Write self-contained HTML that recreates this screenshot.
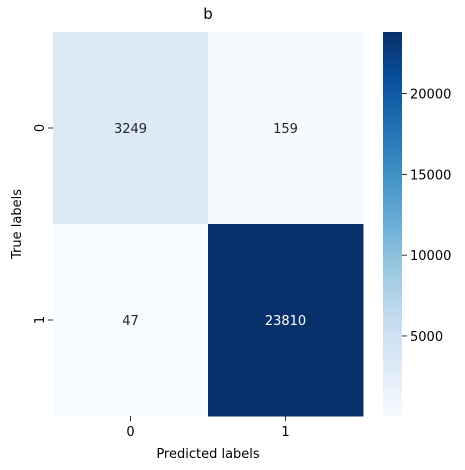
<!DOCTYPE html>
<html><head><meta charset="utf-8"><style>
body{margin:0;background:#fff;}
svg{display:block;font-family:"DejaVu Sans","Liberation Sans",sans-serif;}
</style></head><body>
<svg id="c" width="465" height="470">
<defs><linearGradient id="g" x1="0" y1="1" x2="0" y2="0">
<stop offset="0" stop-color="#f7fbff"/><stop offset="0.125" stop-color="#deebf7"/><stop offset="0.25" stop-color="#c6dbef"/><stop offset="0.375" stop-color="#9ecae1"/><stop offset="0.5" stop-color="#6baed6"/><stop offset="0.625" stop-color="#4292c6"/><stop offset="0.75" stop-color="#2171b5"/><stop offset="0.875" stop-color="#08519c"/><stop offset="1" stop-color="#08306b"/>
</linearGradient></defs>
<text x="208" y="19" font-size="15" text-anchor="middle" fill="#000">b</text>
<text x="208" y="458" font-size="13" text-anchor="middle">Predicted labels</text>
<text transform="translate(21,224) rotate(-90)" font-size="13" text-anchor="middle">True labels</text>
<rect x="383" y="32" width="19" height="384" fill="url(#g)"/>
<g id="cells"></g><g id="ticks"></g>
</svg>
<script>
const xCats=["0","1"];
const yCats=["0","1"];
const values=[[3249,159],[47,23810]];
const cbTicks=[5000,10000,15000,20000];
const vmin=47, vmax=23810;
const L=53,R=363,T=32,B=416,CB=383,CW=19;
const stops=[[247,251,255],[222,235,247],[198,219,239],[158,202,225],[107,174,214],[66,146,198],[33,113,181],[8,81,156],[8,48,107]];
function color(v){let t=Math.max(0,Math.min(1,(v-vmin)/(vmax-vmin)))*8;let i=Math.min(7,Math.floor(t)),f=t-i;const a=stops[i],b=stops[i+1];return `rgb(${a.map((c,k)=>Math.round(c+(b[k]-c)*f)).join(',')})`;}
const ns="http://www.w3.org/2000/svg";
const cw=(R-L)/xCats.length, ch=(B-T)/yCats.length;
const cells=document.getElementById('cells'), ticks=document.getElementById('ticks');
function mk(tag,attrs,parent,txt){const e=document.createElementNS(ns,tag);for(const k in attrs)e.setAttribute(k,attrs[k]);if(txt!==undefined)e.textContent=txt;parent.appendChild(e);return e;}
values.forEach((row,i)=>row.forEach((v,j)=>{
 const r=mk('rect',{x:L+j*cw,y:T+i*ch,width:cw+0.5,height:ch+0.5,fill:color(v)},cells);
 
 
 const n=(v-vmin)/(vmax-vmin);
 const t=mk('text',{x:L+(j+0.5)*cw,y:T+(i+0.5)*ch+5,'font-size':13,'text-anchor':'middle',fill:n>0.5?'#fff':'#262626'},cells,String(v));
 
 
}));
xCats.forEach((c,j)=>{const x=L+(j+0.5)*cw;
 mk('line',{x1:x,x2:x,y1:B,y2:B+5,stroke:'#000','stroke-width':0.8},ticks);
 const t=mk('text',{x:x,y:B+20,'font-size':13,'text-anchor':'middle'},ticks,c);
 
 });
yCats.forEach((c,i)=>{const y=T+(i+0.5)*ch;
 mk('line',{x1:L-5,x2:L,y1:y,y2:y,stroke:'#000','stroke-width':0.8},ticks);
 const t=mk('text',{transform:`translate(${L-9},${y}) rotate(-90)`,'font-size':13,'text-anchor':'middle'},ticks,c);
 
 });
cbTicks.forEach(v=>{const y=B-(v-vmin)/(vmax-vmin)*(B-T);
 mk('line',{x1:CB+CW,x2:CB+CW+5,y1:y,y2:y,stroke:'#000','stroke-width':0.8},ticks);
 const t=mk('text',{x:CB+CW+8,y:y+5,'font-size':13},ticks,String(v));
 
 });
</script>
</body></html>
